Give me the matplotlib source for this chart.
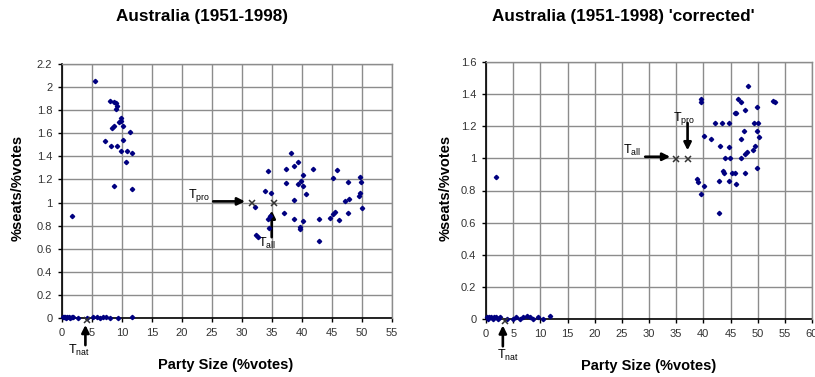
import matplotlib
matplotlib.use('Agg')
import matplotlib.pyplot as plt
from matplotlib.ticker import FormatStrFormatter, MultipleLocator

plt.rcParams['font.family'] = ['Liberation Sans', 'DejaVu Sans']
plt.rcParams['mathtext.default'] = 'regular'

# ---- left chart data: Australia (1951-1998) ----
left_small_x = [0.1, 0.3, 0.5, 0.7, 0.9, 1.1, 1.3, 1.6, 1.9, 2.6, 4.2, 5.2, 5.8, 6.3, 6.8, 7.3, 8.0, 9.4, 11.6]
left_small_y = [0.01, 0.01, 0.01, 0.0, 0.01, 0.01, 0.0, 0.01, 0.01, 0.0, 0.0, 0.01, 0.01, 0.0, 0.01, 0.01, 0.0, 0.0, 0.01]

left_mid_x = [5.5, 8.0, 8.7, 9.0, 9.1, 9.0, 9.9, 9.8, 9.5, 8.4, 8.6, 10.2, 11.3, 7.2, 8.2, 9.2,
              10.1, 9.8, 10.9, 11.6, 10.6, 8.6, 11.6, 1.7]
left_mid_y = [2.05, 1.88, 1.87, 1.86, 1.84, 1.81, 1.73, 1.71, 1.70, 1.65, 1.66, 1.66, 1.61, 1.53, 1.49, 1.49,
              1.54, 1.45, 1.45, 1.43, 1.35, 1.14, 1.12, 0.886]

left_big_x = [38.2, 39.4, 38.7, 37.3, 34.3, 41.9, 45.8, 45.1, 40.2, 39.9, 37.3, 39.4, 40.2, 47.7, 49.7,
              49.8, 33.8, 34.8, 40.7, 38.6, 49.7, 49.5, 47.9, 47.1, 32.2, 50.0, 37.0, 45.5, 45.2, 47.6,
              34.6, 34.4, 38.7, 40.2, 42.8, 44.7, 46.1, 34.5, 39.7, 39.7, 32.3, 32.7, 42.8]
left_big_y = [1.43, 1.35, 1.32, 1.29, 1.27, 1.29, 1.28, 1.21, 1.24, 1.19, 1.17, 1.16, 1.14, 1.18, 1.22,
              1.18, 1.10, 1.08, 1.07, 1.02, 1.08, 1.06, 1.03, 1.01, 0.96, 0.95, 0.91, 0.92, 0.90, 0.91,
              0.88, 0.86, 0.86, 0.84, 0.86, 0.87, 0.85, 0.78, 0.79, 0.77, 0.72, 0.70, 0.67]

left_thresh_x = [4.2, 31.6, 35.3]   # T_nat, T_pro, T_all
left_thresh_y = [-0.02, 1.0, 1.0]

# ---- right chart data: 'corrected' ----
right_small_x = [0.1, 0.3, 0.6, 0.9, 1.2, 1.5, 1.8, 2.2, 2.6, 3.9, 5.0, 5.6, 6.2, 6.8, 7.5, 8.1, 8.7, 9.6, 10.5, 11.8]
right_small_y = [0.01, 0.0, 0.01, 0.01, 0.0, 0.01, 0.01, 0.0, 0.01, 0.0, 0.0, 0.01, 0.0, 0.01, 0.02, 0.01, 0.0, 0.01, 0.0, 0.02]

right_mid_x = [1.84]
right_mid_y = [0.886]

right_big_x = [48.2, 39.5, 39.6, 46.4, 46.9, 52.9, 53.2, 49.8, 47.7, 46.1, 45.8, 42.1, 43.4, 44.8, 49.3,
               50.1, 47.5, 49.8, 40.2, 41.4, 50.2, 46.9, 43.1, 44.7, 49.5, 49.2, 48.0, 47.7, 44.0, 44.9,
               46.9, 49.8, 43.7, 43.8, 45.3, 45.8, 47.7, 38.8, 39.1, 40.2, 42.9, 44.7, 46.0, 39.6, 42.9]
right_big_y = [1.45, 1.37, 1.35, 1.37, 1.35, 1.36, 1.35, 1.32, 1.30, 1.28, 1.28, 1.22, 1.22, 1.22, 1.22,
               1.22, 1.17, 1.17, 1.14, 1.12, 1.13, 1.12, 1.08, 1.07, 1.08, 1.05, 1.04, 1.03, 1.00, 1.00,
               1.00, 0.94, 0.92, 0.91, 0.91, 0.91, 0.91, 0.87, 0.85, 0.83, 0.86, 0.86, 0.84, 0.78, 0.66]

right_thresh_x = [3.5, 34.9, 37.1]   # T_nat, T_all, T_pro
right_thresh_y = [-0.012, 0.994, 0.994]

PT_COLOR = '#000080'
GRID = '#8c8c8c'
W, H = 815.0, 377.0


def style_axes(ax, xmax, ymax, ystep):
	ax.set_xlim(0, xmax)
	ax.set_ylim(0, ymax)
	ax.xaxis.set_major_locator(MultipleLocator(5))
	ax.yaxis.set_major_locator(MultipleLocator(ystep))
	ax.yaxis.set_major_formatter(FormatStrFormatter('%g'))
	ax.grid(True, color=GRID, lw=1.0)
	ax.set_axisbelow(True)
	for s in ['top', 'right']:
		ax.spines[s].set_color(GRID)
		ax.spines[s].set_linewidth(1.0)
	for s in ['left', 'bottom']:
		ax.spines[s].set_color('black')
		ax.spines[s].set_linewidth(1.2)
		ax.spines[s].set_zorder(2)
	ax.tick_params(direction='out', length=3, width=1, labelsize=8, labelcolor='#333333', pad=4)


def plot_points(ax, xs, ys):
	ax.plot(xs, ys, linestyle='none', marker='D', ms=2.2, color=PT_COLOR, mec=PT_COLOR, zorder=5, clip_on=False)


def arrow(ax, start, end):
	ax.annotate('', xy=end, xytext=start, annotation_clip=False,
		arrowprops=dict(arrowstyle='-|>', lw=1.9, color='black', mutation_scale=11, shrinkA=0, shrinkB=0))


fig = plt.figure(figsize=(8.15, 3.77), dpi=100)

# left chart
ax1 = fig.add_axes([62 / W, 1 - 318 / H, 330 / W, 254 / H])
style_axes(ax1, 55, 2.2, 0.2)
plot_points(ax1, left_small_x, left_small_y)
plot_points(ax1, left_mid_x, left_mid_y)
plot_points(ax1, left_big_x, left_big_y)
ax1.plot(left_thresh_x, left_thresh_y, linestyle='none', marker='x', ms=4.5, mew=1.1, color='#333333', zorder=6, clip_on=False)
arrow(ax1, (25.2, 1.01), (30.5, 1.01))
ax1.text(21.0, 1.065, '$T_{pro}$', fontsize=9, ha='left', va='center')
arrow(ax1, (34.95, 0.70), (34.95, 0.93))
ax1.text(32.6, 0.65, '$T_{all}$', fontsize=9, ha='left', va='center')
arrow(ax1, (3.9, -0.235), (3.9, -0.06))
ax1.text(1.0, -0.285, '$T_{nat}$', fontsize=9, ha='left', va='center', clip_on=False)

fig.text(202 / W, 1 - 17 / H, 'Australia (1951-1998)', fontsize=12.3, fontweight='bold', ha='center', va='center')
fig.text(226 / W, 1 - 365 / H, 'Party Size (%votes)', fontsize=10.5, fontweight='bold', ha='center', va='center')
fig.text(18 / W, 1 - 188 / H, '%seats/%votes', fontsize=10.5, fontweight='bold', ha='center', va='center', rotation=90)

# right chart
ax2 = fig.add_axes([486 / W, 1 - 319 / H, 326 / W, 257 / H])
style_axes(ax2, 60, 1.6, 0.2)
plot_points(ax2, right_small_x, right_small_y)
plot_points(ax2, right_mid_x, right_mid_y)
plot_points(ax2, right_big_x, right_big_y)
ax2.plot(right_thresh_x, right_thresh_y, linestyle='none', marker='x', ms=4.5, mew=1.1, color='#333333', zorder=6, clip_on=False)
arrow(ax2, (29.3, 1.01), (33.9, 1.01))
ax2.text(25.2, 1.05, '$T_{all}$', fontsize=9, ha='left', va='center')
arrow(ax2, (37.1, 1.22), (37.1, 1.05))
ax2.text(34.4, 1.25, '$T_{pro}$', fontsize=9, ha='left', va='center')
arrow(ax2, (3.1, -0.17), (3.1, -0.04))
ax2.text(2.0, -0.224, '$T_{nat}$', fontsize=9, ha='left', va='center', clip_on=False)

fig.text(623 / W, 1 - 16 / H, "Australia (1951-1998) 'corrected'", fontsize=12.3, fontweight='bold', ha='center', va='center')
fig.text(649 / W, 1 - 366 / H, 'Party Size (%votes)', fontsize=10.5, fontweight='bold', ha='center', va='center')
fig.text(446 / W, 1 - 188 / H, '%seats/%votes', fontsize=10.5, fontweight='bold', ha='center', va='center', rotation=90)

fig.savefig('out.png', dpi=100)
